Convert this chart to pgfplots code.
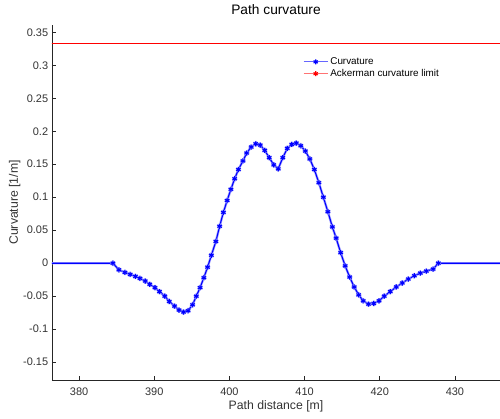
\documentclass[border=0pt]{standalone}
\usepackage{fontspec}
\setmainfont{Liberation Sans}
\usepackage{pgfplots}
\pgfplotsset{compat=1.18}
\definecolor{mblue}{rgb}{0,0,1}
\definecolor{mred}{rgb}{1,0,0}
\definecolor{lblue}{rgb}{0.4,0.4,1}
\definecolor{lred}{rgb}{1,0.45,0.45}
\begin{document}
\begin{tikzpicture}
\begin{axis}[
  scale only axis,
  width=448bp, height=355bp,
  xmin=376.4, xmax=436,
  ymin=-0.177, ymax=0.361,
  axis x line=bottom, axis y line=left,
  axis line style={-, line width=0.6bp, black!85},
  tick align=inside,
  major tick length=4bp,
  tick style={black!85, line width=0.6bp},
  xtick={380,390,...,430},
  ytick={-0.15,-0.1,...,0.36},
  /pgf/number format/assume math mode=true,
  /pgf/number format/fixed,
  /pgf/number format/precision=2,
  tick label style={font=\fontsize{11}{12}\selectfont, text=black!80},
  xticklabel style={anchor=base, inner sep=0pt, yshift=-15bp},
  yticklabel style={anchor=east, inner sep=0pt, xshift=-3.7bp},
  xlabel={Path distance [m]},
  ylabel={Curvature [1/m]},
  xlabel style={font=\fontsize{12.3}{14}\selectfont, text=black!80, at={(axis description cs:0.5,0)}, anchor=base, inner sep=0pt, yshift=-29.5bp},
  ylabel style={font=\fontsize{12.3}{14}\selectfont, text=black!80, at={(axis description cs:-0.083,0.5)}, anchor=center, inner sep=0pt},
  title={Path curvature},
  title style={font=\fontsize{13.8}{16}\selectfont, at={(axis description cs:0.5,1)}, anchor=base, inner sep=0pt, yshift=5bp},
  legend style={at={(axis description cs:0.56,0.912)}, anchor=north west, draw=none, fill=none, inner sep=0pt,
    font=\fontsize{9.9}{11}\selectfont, row sep=1bp,
    nodes={inner xsep=2bp, inner ysep=1.2bp, anchor=west}},
  legend cell align=left,
  legend image code/.code={\draw[mark repeat=2, mark phase=2, #1] plot coordinates {(0bp,0bp) (12bp,0bp) (24bp,0bp)};},
  clip=true,
]
\addplot[color=mred, line width=1.3bp, forget plot] coordinates {(370,0.3333) (440,0.3333)};
\addplot[color=mblue!35, line width=2.4bp, mark=asterisk, mark size=2.8bp, mark options={line width=1.8bp}, forget plot] coordinates {
(370,0) (384.5,0) (385.3,-0.010) (386.1,-0.014) (386.8,-0.017) (387.5,-0.020) (388.1,-0.023) (388.8,-0.027) (389.4,-0.032) (390.1,-0.037) (390.7,-0.043) (391.4,-0.050) (392.0,-0.058) (392.7,-0.065) (393.3,-0.071) (393.9,-0.074) (394.5,-0.072) (395.1,-0.063) (395.6,-0.050) (396.1,-0.037) (396.6,-0.022) (397.1,-0.006) (397.6,0.012) (398.2,0.033) (398.7,0.056) (399.2,0.077) (399.7,0.095) (400.2,0.112) (400.7,0.128) (401.2,0.142) (401.8,0.155) (402.3,0.167) (402.9,0.176) (403.5,0.181) (404.1,0.179) (404.7,0.171) (405.3,0.160) (405.9,0.149) (406.5,0.143) (407.1,0.160) (407.7,0.174) (408.3,0.180) (408.9,0.182) (409.5,0.178) (410.1,0.170) (410.7,0.158) (411.3,0.142) (411.9,0.122) (412.5,0.100) (413.1,0.078) (413.7,0.055) (414.2,0.038) (414.8,0.016) (415.4,-0.004) (416.0,-0.021) (416.6,-0.036) (417.2,-0.048) (417.8,-0.057) (418.5,-0.062) (419.2,-0.061) (419.9,-0.057) (420.6,-0.050) (421.4,-0.043) (422.2,-0.036) (423.0,-0.030) (423.8,-0.024) (424.6,-0.019) (425.4,-0.015) (426.2,-0.012) (427.1,-0.009) (427.8,0) (440,0)
};
\addplot[color=mblue, line width=1.1bp, mark=asterisk, mark size=2.5bp, mark options={line width=1.1bp}, forget plot] coordinates {
(370,0) (384.5,0) (385.3,-0.010) (386.1,-0.014) (386.8,-0.017) (387.5,-0.020) (388.1,-0.023) (388.8,-0.027) (389.4,-0.032) (390.1,-0.037) (390.7,-0.043) (391.4,-0.050) (392.0,-0.058) (392.7,-0.065) (393.3,-0.071) (393.9,-0.074) (394.5,-0.072) (395.1,-0.063) (395.6,-0.050) (396.1,-0.037) (396.6,-0.022) (397.1,-0.006) (397.6,0.012) (398.2,0.033) (398.7,0.056) (399.2,0.077) (399.7,0.095) (400.2,0.112) (400.7,0.128) (401.2,0.142) (401.8,0.155) (402.3,0.167) (402.9,0.176) (403.5,0.181) (404.1,0.179) (404.7,0.171) (405.3,0.160) (405.9,0.149) (406.5,0.143) (407.1,0.160) (407.7,0.174) (408.3,0.180) (408.9,0.182) (409.5,0.178) (410.1,0.170) (410.7,0.158) (411.3,0.142) (411.9,0.122) (412.5,0.100) (413.1,0.078) (413.7,0.055) (414.2,0.038) (414.8,0.016) (415.4,-0.004) (416.0,-0.021) (416.6,-0.036) (417.2,-0.048) (417.8,-0.057) (418.5,-0.062) (419.2,-0.061) (419.9,-0.057) (420.6,-0.050) (421.4,-0.043) (422.2,-0.036) (423.0,-0.030) (423.8,-0.024) (424.6,-0.019) (425.4,-0.015) (426.2,-0.012) (427.1,-0.009) (427.8,0) (440,0)
};
\addlegendimage{color=lblue, line width=1.3bp, mark=asterisk, mark size=2.5bp, mark options={line width=1.1bp, draw=mblue}}
\addlegendentry{Curvature}
\addlegendimage{color=lred, line width=1.3bp, mark=asterisk, mark size=2.5bp, mark options={line width=1.1bp, draw=mred}}
\addlegendentry{Ackerman curvature limit}
\end{axis}
\pgfresetboundingbox
\path[use as bounding box] ([xshift=-52bp,yshift=-39bp]current axis.south west) rectangle ([yshift=25bp]current axis.north east);
\end{tikzpicture}
\end{document}
